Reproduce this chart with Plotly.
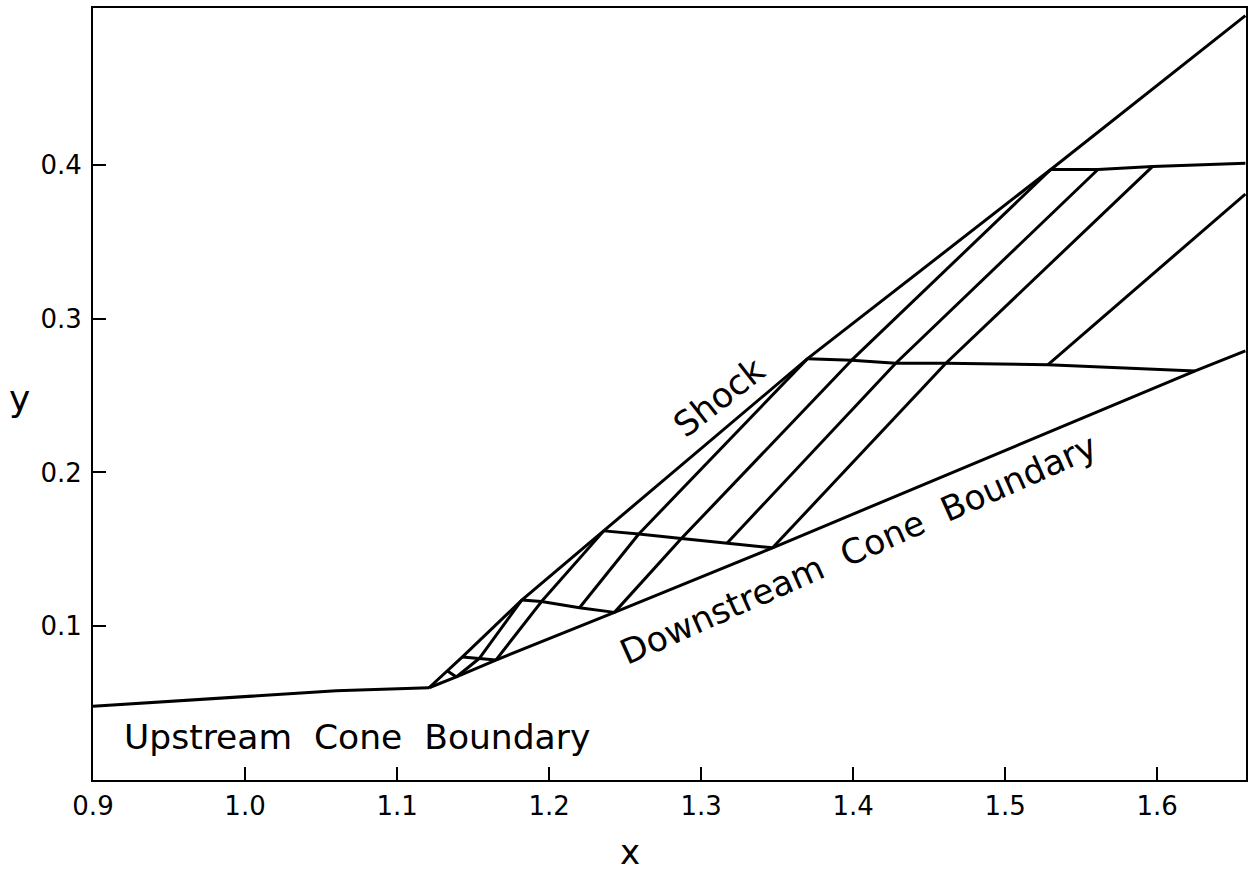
import plotly.graph_objects as go

# ---------------- data ----------------
upstream_x = [0.900, 1.000, 1.060, 1.121]
upstream_y = [0.048, 0.054, 0.058, 0.060]

cone_x = [1.121, 1.139, 1.165, 1.243, 1.347, 1.625, 1.658]
cone_y = [0.060, 0.067, 0.078, 0.109, 0.151, 0.266, 0.279]

shock_x = [1.121, 1.133, 1.143, 1.182, 1.236, 1.370, 1.530, 1.658]
shock_y = [0.060, 0.071, 0.080, 0.117, 0.162, 0.274, 0.397, 0.497]

# cross lines (shock -> cone / frame), bottom to top
row6_x = [1.133, 1.139]
row6_y = [0.071, 0.067]
row5_x = [1.143, 1.154, 1.165]
row5_y = [0.080, 0.079, 0.078]
row4_x = [1.182, 1.195, 1.220, 1.243]
row4_y = [0.117, 0.116, 0.112, 0.109]
row3_x = [1.236, 1.259, 1.287, 1.317, 1.347]
row3_y = [0.162, 0.160, 0.157, 0.154, 0.151]
row2_x = [1.370, 1.399, 1.428, 1.461, 1.528, 1.625]
row2_y = [0.274, 0.273, 0.271, 0.271, 0.270, 0.266]
row1_x = [1.530, 1.561, 1.597, 1.658]
row1_y = [0.397, 0.397, 0.399, 0.401]

# characteristic segments (start -> end)
diag_x0 = [1.139, 1.154, 1.165, 1.195, 1.220, 1.243, 1.259, 1.287, 1.317, 1.347, 1.399, 1.428, 1.461, 1.528]
diag_y0 = [0.067, 0.079, 0.078, 0.116, 0.112, 0.109, 0.160, 0.157, 0.154, 0.151, 0.273, 0.271, 0.271, 0.270]
diag_x1 = [1.154, 1.182, 1.195, 1.236, 1.259, 1.287, 1.370, 1.399, 1.428, 1.461, 1.530, 1.561, 1.597, 1.658]
diag_y1 = [0.079, 0.117, 0.116, 0.162, 0.160, 0.157, 0.274, 0.273, 0.271, 0.271, 0.397, 0.397, 0.399, 0.381]

x_ticks = [0.9, 1.0, 1.1, 1.2, 1.3, 1.4, 1.5, 1.6]
x_tick_text = ["0.9", "1.0", "1.1", "1.2", "1.3", "1.4", "1.5", "1.6"]
y_ticks = [0.1, 0.2, 0.3, 0.4]
y_tick_text = ["0.1", "0.2", "0.3", "0.4"]

# ---------------- figure ----------------
LINE = dict(color="black", width=3)
FONT = "DejaVu Sans"

fig = go.Figure()
fig.add_trace(go.Scatter(x=upstream_x, y=upstream_y, mode="lines", line=LINE, showlegend=False, hoverinfo="skip"))
fig.add_trace(go.Scatter(x=cone_x, y=cone_y, mode="lines", line=LINE, showlegend=False, hoverinfo="skip"))
fig.add_trace(go.Scatter(x=shock_x, y=shock_y, mode="lines", line=LINE, showlegend=False, hoverinfo="skip"))

rows_x = [row6_x, row5_x, row4_x, row3_x, row2_x, row1_x]
rows_y = [row6_y, row5_y, row4_y, row3_y, row2_y, row1_y]
cx, cy = [], []
for rx, ry in zip(rows_x, rows_y):
    cx += list(rx) + [None]
    cy += list(ry) + [None]
fig.add_trace(go.Scatter(x=cx, y=cy, mode="lines", line=LINE, showlegend=False, hoverinfo="skip"))

dx, dy = [], []
for a, b, c, d in zip(diag_x0, diag_y0, diag_x1, diag_y1):
    dx += [a, c, None]
    dy += [b, d, None]
fig.add_trace(go.Scatter(x=dx, y=dy, mode="lines", line=LINE, showlegend=False, hoverinfo="skip"))

axis_common = dict(
    showgrid=False, zeroline=False, showline=True, linecolor="black", linewidth=1.8,
    mirror=True, ticks="inside", ticklen=13, tickwidth=1.8, tickcolor="black",
    tickfont=dict(family=FONT, size=26, color="black"),
)

fig.update_xaxes(range=[0.9, 1.6584], tickvals=x_ticks, ticktext=x_tick_text,
                 ticklabelstandoff=2, **axis_common)
fig.update_yaxes(range=[0.0, 0.502], tickvals=y_ticks, ticktext=y_tick_text,
                 ticklabelstandoff=4, **axis_common)

ann_font = dict(family=FONT, size=34.5, color="black")
fig.add_annotation(x=0.919, y=0.028, xref="x", yref="y", text="Upstream\u00a0 Cone\u00a0 Boundary",
                   showarrow=False, xanchor="left", yanchor="middle", font=ann_font)
fig.add_annotation(x=1.4036, y=0.150, xref="x", yref="y", text="Downstream\u00a0 Cone\u00a0 Boundary",
                   showarrow=False, xanchor="center", yanchor="middle", textangle=-24, font=ann_font)
fig.add_annotation(x=1.312, y=0.249, xref="x", yref="y", text="Shock",
                   showarrow=False, xanchor="center", yanchor="middle", textangle=-38, font=ann_font)
fig.add_annotation(x=0.4658, y=-0.093, xref="paper", yref="paper", text="x",
                   showarrow=False, xanchor="center", yanchor="middle", height=30, valign="middle",
                   font=dict(family=FONT, size=34, color="black"))
fig.add_annotation(x=-0.064, y=0.494, xref="paper", yref="paper", text="y",
                   showarrow=False, xanchor="center", yanchor="middle",
                   font=dict(family=FONT, size=36, color="black"))

fig.update_layout(
    width=1254, height=871,
    margin=dict(l=93, r=6, t=7, b=91),
    plot_bgcolor="white", paper_bgcolor="white",
    showlegend=False,
)

fig.write_html("out.html")
